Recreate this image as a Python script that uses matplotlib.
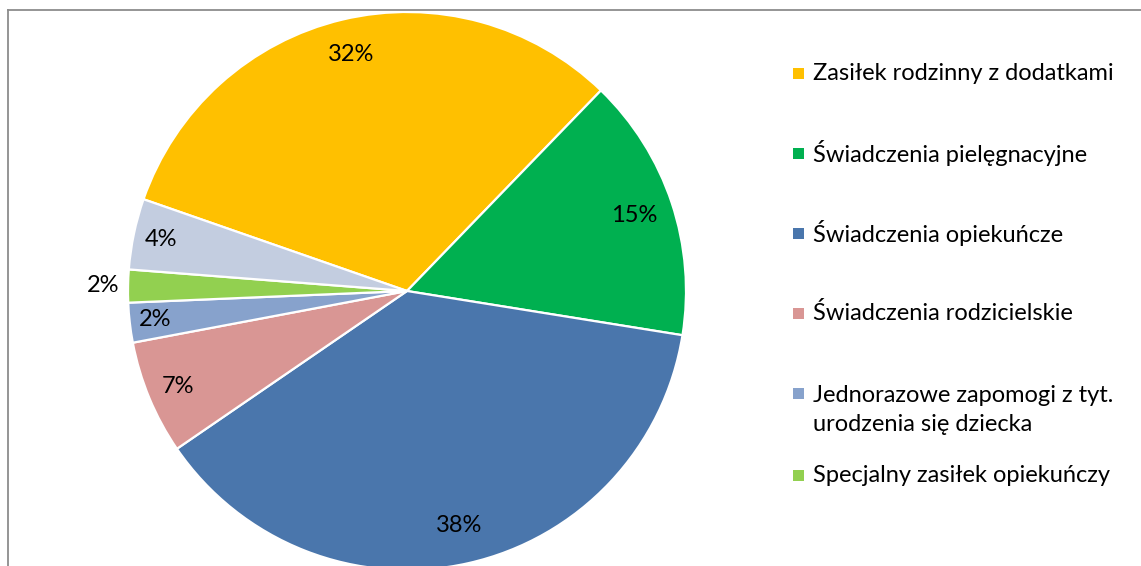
import matplotlib
matplotlib.use("Agg")
import matplotlib.pyplot as plt
import numpy as np
from matplotlib.patches import Rectangle
from matplotlib.lines import Line2D

# data (clockwise from the yellow slice)
categories = ["Zasiłek rodzinny z dodatkami",
              "Świadczenia pielęgnacyjne",
              "Świadczenia opiekuńcze",
              "Świadczenia rodzicielskie",
              "Jednorazowe zapomogi z tyt.\nurodzenia się dziecka",
              "Specjalny zasiłek opiekuńczy",
              "Inne"]
shares = [31.9, 15.3, 37.9, 6.6, 2.3, 1.9, 4.1]
colors = ["#FFC000", "#00B050", "#4A76AC", "#D99694", "#87A2CC", "#92D050", "#C3CDE0"]
n_legend = 6  # last entry is cut off in the original legend

plt.rcParams['font.family'] = ['Lato', 'DejaVu Sans']
W, H = 1141, 566
fig = plt.figure(figsize=(W / 100, H / 100), dpi=100)

# frame of the chart area (only top and left edges are visible)
fig.add_artist(Line2D([8 / W, 8 / W], [0, 1 - 10 / H], color="#8c8c8c", lw=1.3))
fig.add_artist(Line2D([8 / W, 1], [1 - 10 / H, 1 - 10 / H], color="#8c8c8c", lw=1.3))

# pie: centre (407, 291) px, radius 279 px
cx, cy, r = 407, 291, 279
ax = fig.add_axes([(cx - r) / W, 1 - (cy + r) / H, 2 * r / W, 2 * r / H])
wedges, texts, autotexts = ax.pie(
    shares, colors=colors, startangle=160.8, counterclock=False,
    autopct=lambda p: f"{p:.0f}%", pctdistance=0.87,
    wedgeprops=dict(edgecolor="white", linewidth=1.6),
    textprops=dict(fontsize=17, color="black"))
ax.set_xlim(-1, 1)
ax.set_ylim(-1, 1)
ax.set_aspect("equal")
ax.axis("off")

# per-slice label distances (Excel "best fit")
label_dist = [0.87, 0.86, 0.86, 0.89, 0.91, 1.09, 0.90]
for w, t, d in zip(wedges, autotexts, label_dist):
    ang = np.deg2rad((w.theta1 + w.theta2) / 2)
    t.set_position((d * np.cos(ang), d * np.sin(ang)))

# legend drawn by hand to mimic Excel spacing (centre of each entry, px)
legend_y = [73, 153, 233, 313, 410, 475]
for i in range(n_legend):
    y = legend_y[i]
    top_line = y - 17 if "\n" in categories[i] else y
    fig.add_artist(Rectangle((793 / W, 1 - (top_line + 6) / H), 11 / W, 11 / H,
                             facecolor=colors[i], edgecolor="none"))
    fig.text(813 / W, 1 - y / H, categories[i], fontsize=17, va="center",
             ha="left", linespacing=1.45)

fig.savefig("out.png", dpi=100)
